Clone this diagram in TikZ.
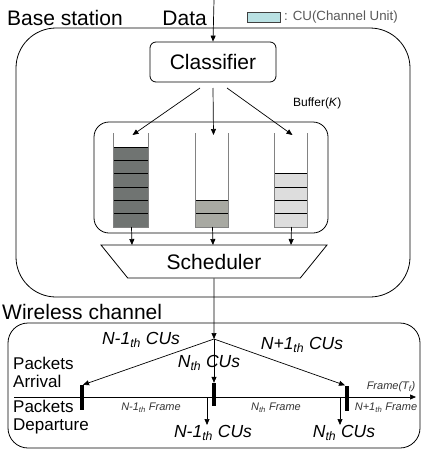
\documentclass[tikz,border=0pt]{standalone}
\usepackage{fontspec}
\setmainfont{Liberation Sans}
\definecolor{bufdark}{RGB}{112, 116, 114}
\definecolor{bufmid}{RGB}{168, 169, 162}
\definecolor{buflight}{RGB}{221, 221, 221}
\definecolor{cufill}{RGB}{185, 225, 227}
\definecolor{wallgray}{RGB}{130, 130, 130}
\usetikzlibrary{arrows.meta, shapes.geometric}
\tikzset{
	bigtext/.style={font=\fontsize{21}{25}\selectfont, inner sep=0pt},
	cutext/.style={font=\fontsize{17.5}{20}\selectfont\itshape, inner sep=0pt},
	frametext/.style={font=\fontsize{11}{13}\selectfont\itshape, text=black!80, inner sep=0pt},
	sidetext/.style={font=\fontsize{17}{18}\selectfont, align=left, inner sep=0pt},
	smalltext/.style={font=\fontsize{12}{14}\selectfont, inner sep=0pt},
	region/.style={rectangle, draw, line width=0.8pt},
	procbox/.style={rectangle, rounded corners=6pt, draw, line width=0.8pt, minimum width=126pt, minimum height=40pt, font=\fontsize{21}{25}\selectfont},
	schedbox/.style={trapezium, trapezium angle=30, shape border rotate=180, trapezium stretches body, draw, line width=0.8pt, minimum width=226pt, minimum height=33pt, inner sep=0pt, font=\fontsize{21}{25}\selectfont},
	bar/.style={rectangle, fill=black, inner sep=0pt, minimum width=4pt},
	arrow/.style={-{Triangle[length=6pt, width=5pt]}, line width=0.7pt},
}

\begin{document}
\begin{tikzpicture}[x=1pt, y=-1pt]
	\useasboundingbox (0,0) rectangle (423,450);
	% base station
	\node[region, rounded corners=40pt, minimum width=394pt, minimum height=269pt] (bsbox) at (213,162.5) {};
	\node[bigtext, anchor=west] (bslabel) at (7,18) {Base station};
	\node[bigtext, anchor=east] (datalabel) at (207,18) {Data};
	\node[rectangle, draw=black!75, fill=cufill, inner sep=0pt, minimum width=33pt, minimum height=10pt] (culegend) at (263.5,17) {};
	\node[font=\fontsize{13.3}{15}\selectfont, text=black!65, inner sep=0pt, anchor=west] (cutextlabel) at (284,17) {: CU(Channel Unit)};
	\coordinate (datain) at (214,0);
	\node[procbox] (classifier) at (213,62) {Classifier};
	\node[region, rounded corners=15pt, minimum width=234pt, minimum height=111pt] (bufbox) at (211,177.5) {};
	\node[smalltext, anchor=west] (buflabel) at (293,103) {Buffer(\textit{K})};
	\foreach \xl/\xr/\n/\col/\name in {113/148/6/bufdark/bufa, 195/228/2/bufmid/bufb, 274/307/4/buflight/bufc}{
		\foreach \k in {1,...,\n}
			\draw[fill=\col, line width=0.8pt] (\xl,{227-13.3*\k}) rectangle (\xr,{227-13.3*(\k-1)});
		\draw[wallgray, line width=0.8pt] (\xl,133) -- (\xl,227) -- (\xr,227) -- (\xr,133);
		\coordinate (\name-top) at ({(\xl+\xr)/2+2},135);
		\coordinate (\name-bot) at ({(\xl+\xr)/2+1},227);
	}
	\node[schedbox] (scheduler) at (214,261.5) {Scheduler};
	\coordinate (bufa-in) at (132,245);
	\coordinate (bufb-in) at (213,245);
	\coordinate (bufc-in) at (291,245);
	\draw[arrow] (datain) -- (classifier.north);
	\draw[arrow] (200,88) -- (bufa-top);
	\draw[arrow] (213,88) -- (bufb-top);
	\draw[arrow] (227,88) -- (bufc-top);
	\draw[arrow] (bufa-bot) -- (bufa-in);
	\draw[arrow] (bufb-bot) -- (bufb-in);
	\draw[arrow] (bufc-bot) -- (bufc-in);
	% wireless channel
	\node[bigtext, anchor=west] (wclabel) at (2,312) {Wireless channel};
	\node[region, rounded corners=20pt, minimum width=412pt, minimum height=125pt] (wcbox) at (214,385.5) {};
	\coordinate (fan) at (214,339);
	\coordinate (tlstart) at (14,397);
	\coordinate (tlend) at (416,397);
	\draw[arrow] (tlstart) -- (tlend);
	\node[bar, minimum height=25pt] (bara) at (82,397.5) {};
	\node[bar, minimum height=23pt] (barb) at (214,394.5) {};
	\node[bar, minimum height=25pt] (barc) at (347,398) {};
	\draw[arrow] (scheduler.south) -- (fan);
	\draw[arrow] (fan) -- ([xshift=1pt]bara.north);
	\draw[arrow] (fan) -- (barb.north);
	\draw[arrow] (fan) -- ([xshift=-2pt]barc.north);
	\coordinate (depa) at (207,397);
	\coordinate (depb) at (340,397);
	\draw[arrow] (depa) -- (207,425);
	\draw[arrow] (depb) -- (340,425);
	\node[cutext] (cuprev) at (141,340) {N-1\textsubscript{th} CUs};
	\node[cutext] (cucur) at (209,363) {N\textsubscript{th} CUs};
	\node[cutext] (cunext) at (302,345) {N+1\textsubscript{th} CUs};
	\node[cutext] (depprev) at (213,433) {N-1\textsubscript{th} CUs};
	\node[cutext] (depcur) at (344,433) {N\textsubscript{th} CUs};
	\node[sidetext, anchor=west] (arrlabel) at (13,372) {Packets\\Arrival};
	\node[sidetext, anchor=west] (deplabel) at (13,417) {Packets\\Departure};
	\node[frametext] (frprev) at (151,408) {N-1\textsubscript{th} Frame};
	\node[frametext] (frcur) at (276,408) {N\textsubscript{th} Frame};
	\node[frametext] (frnext) at (386,408) {N+1\textsubscript{th} Frame};
	\node[frametext] (frlabel) at (391,387) {Frame(T\textsubscript{f})};
\end{tikzpicture}
\end{document}
